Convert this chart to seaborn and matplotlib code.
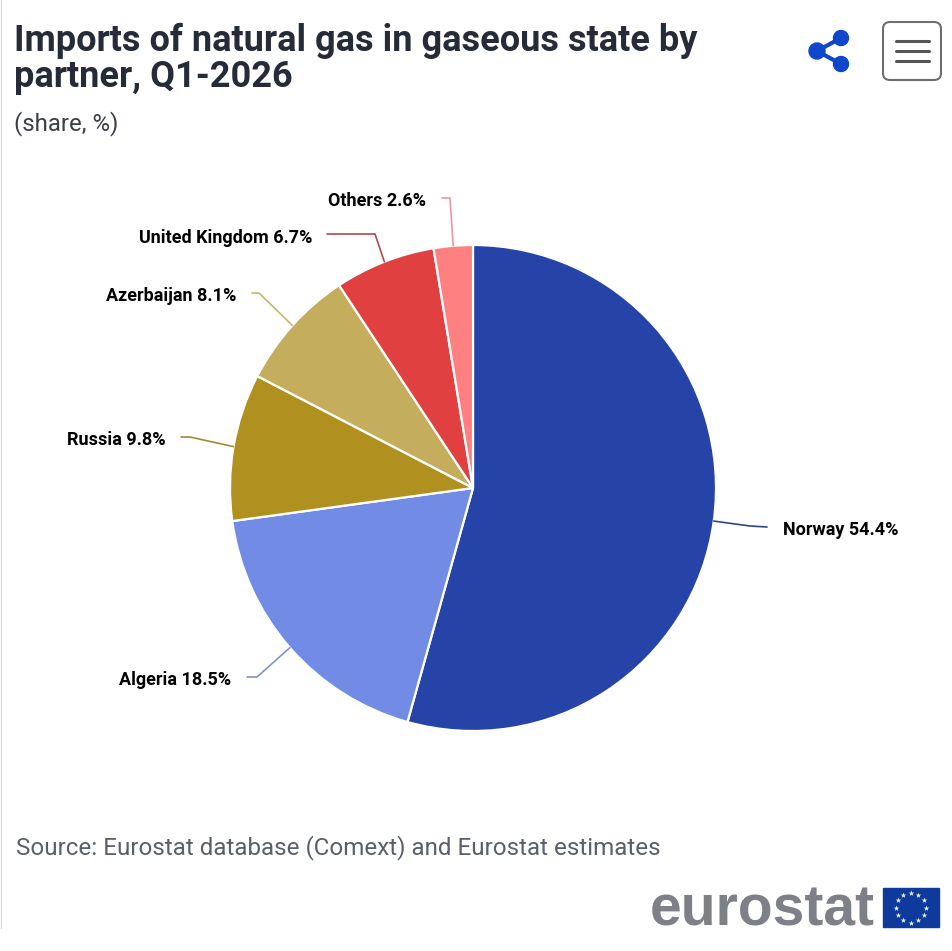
import numpy as np
import matplotlib
matplotlib.use("Agg")
import matplotlib.pyplot as plt
from matplotlib.patches import Circle, FancyBboxPatch, Rectangle
import seaborn as sns

partners = ["Norway", "Algeria", "Russia", "Azerbaijan", "United Kingdom", "Others"]
shares = [54.4, 18.5, 9.8, 8.1, 6.7, 2.6]
slice_colors = ["#2644A7", "#728CE6", "#B09120", "#C4AD5C", "#E04040", "#FF8080"]
line_colors = ["#2B4590", "#7C97C4", "#A58B2B", "#C9B66E", "#B5474E", "#E9989C"]

title_lines = ["Imports of natural gas in gaseous state by", "partner, Q1-2026"]
subtitle = "(share, %)"
source = "Source: Eurostat database (Comext) and Eurostat estimates"

# label anchor and connector elbow, in picture pixels
label_x = [783, 231, 166, 236, 312, 426]
label_y = [530, 680, 440, 296, 238, 201]
elbow_a = [(750, 526), (257, 677), (190, 437), (259, 293), (375, 234), (450, 198)]
elbow_b = [(767, 527), (247, 677), (181, 437), (252, 293), (327, 234), (442, 198)]

sns.set_theme(style="white")
plt.rcParams["font.family"] = ["Roboto", "DejaVu Sans"]

W, H = 953, 951
CX, CY, R = 473, 488, 243

fig = plt.figure(figsize=(W / 100, H / 100), dpi=100)
fig.patch.set_facecolor("white")

ax = fig.add_axes([(CX - R) / W, 1 - (CY + R) / H, 2 * R / W, 2 * R / H])
ax.pie(shares, colors=sns.color_palette(slice_colors), startangle=90, counterclock=False,
       radius=1, wedgeprops=dict(edgecolor="white", linewidth=1.6, joinstyle="round"))
ax.set_xlim(-1, 1)
ax.set_ylim(-1, 1)
ax.axis("off")

# overlay in pixel coords for text, connectors and page furniture
ov = fig.add_axes([0, 0, 1, 1])
ov.set_xlim(0, W)
ov.set_ylim(H, 0)
ov.axis("off")
ov.patch.set_alpha(0)

ov.text(14, 41, title_lines[0], fontsize=26, fontweight="bold", color="#262B38", va="center")
ov.text(14, 77, title_lines[1], fontsize=26, fontweight="bold", color="#262B38", va="center")
ov.text(14, 124, subtitle, fontsize=17.3, color="#3A3F4A", va="center")
ov.text(16, 848, source, fontsize=17.38, color="#5A5F69", va="center")

ov.plot([0.5, 0.5], [0, 928], color="#D8DADF", lw=1)

cum = np.cumsum([0] + shares[:-1]) + np.array(shares) / 2
angles = cum / sum(shares) * 2 * np.pi
for i, name in enumerate(partners):
    px = CX + R * np.sin(angles[i])
    py = CY - R * np.cos(angles[i])
    ov.plot([px, elbow_a[i][0], elbow_b[i][0]], [py, elbow_a[i][1], elbow_b[i][1]],
            color=line_colors[i], lw=1.2)
    ha = "left" if i == 0 else "right"
    ov.text(label_x[i], label_y[i], f"{name} {shares[i]}%", fontsize=13, fontweight="bold",
            color="black", ha=ha, va="center")

# share icon
blue = "#0E47CB"
ov.plot([841, 817, 841], [38, 51, 64], color=blue, lw=3)
for x, y, r in [(841, 38, 7.5), (817, 51, 8), (841, 64, 7.5)]:
    ov.add_patch(Circle((x, y), r, color=blue))

# menu button
ov.add_patch(FancyBboxPatch((883, 22), 58, 58, boxstyle="round,pad=0,rounding_size=7",
                            fc="white", ec="#6E6E6E", lw=1.5))
for y in [41, 51, 61]:
    ov.plot([896, 929], [y, y], color="#555555", lw=2.2)

# eurostat logo
ov.text(650, 910, "eurostat", fontsize=41, fontweight="bold", family="Liberation Sans",
        color="#7E8088", va="center")
ov.add_patch(Rectangle((883, 888), 56, 39, color="#0E3A9E"))
star_ang = np.arange(12) / 12 * 2 * np.pi
ov.scatter(911 + 15 * np.sin(star_ang), 907.5 + 15 * np.cos(star_ang),
           marker="*", s=18, color="#F2F2E0", linewidths=0)

fig.savefig("out.png", dpi=100, facecolor="white")
